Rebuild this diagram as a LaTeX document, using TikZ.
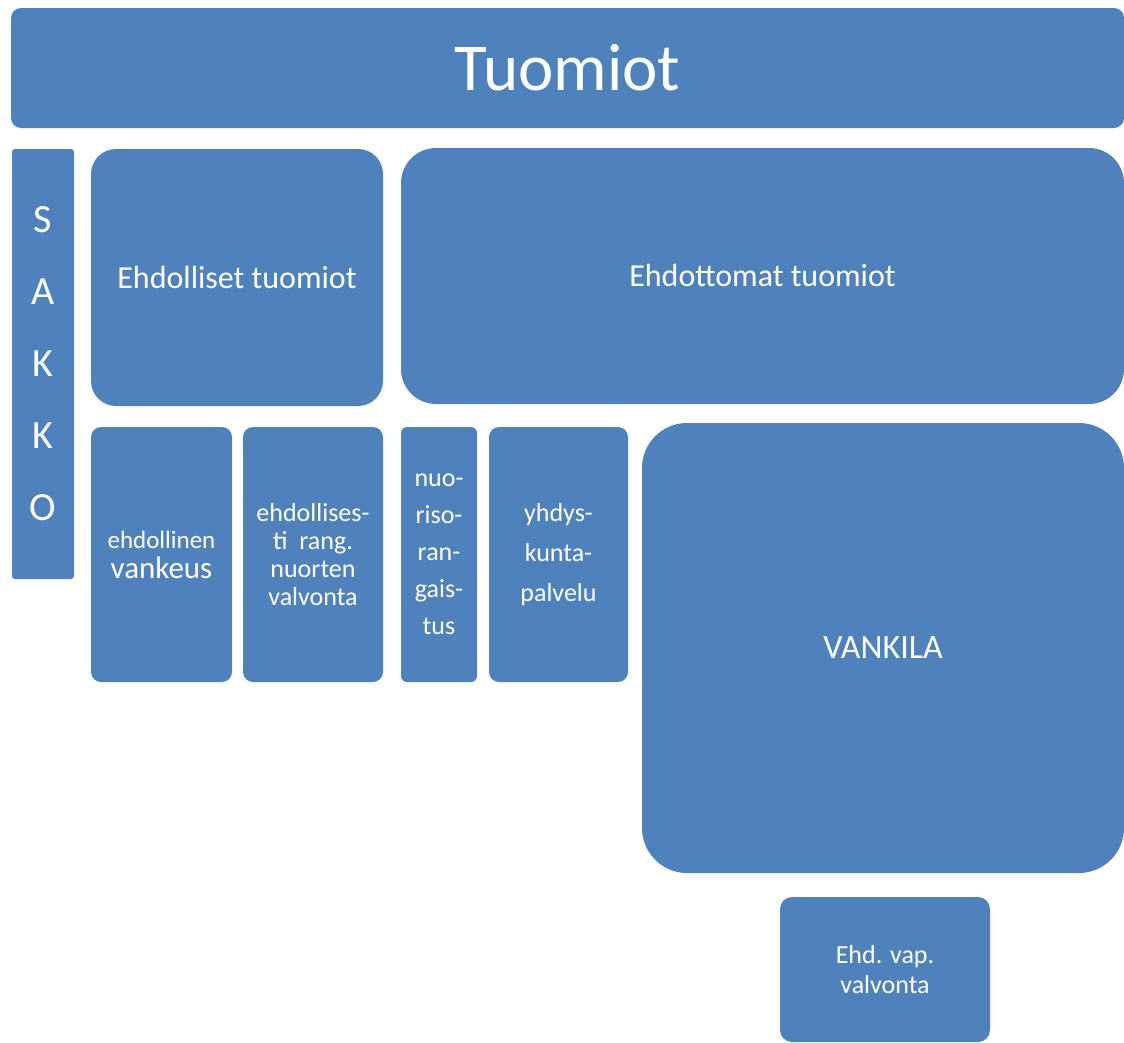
\documentclass[tikz,border=0pt]{standalone}
\usepackage{fontspec}
\setmainfont{Carlito}
\definecolor{boxblue}{HTML}{4F81BD}
\newcommand{\fs}[2]{\fontsize{#1}{#2}\selectfont}
\begin{document}
\begin{tikzpicture}[x=1pt,y=-1pt,
  box/.style={fill=boxblue, draw=none, text=white, align=center, inner sep=0pt, rectangle}]
\useasboundingbox (0,0) rectangle (1124,1042);
% geometry: centre = ((x1+x2)/2,(y1+y2)/2), size
\node[box, rounded corners=10, minimum width=1113, minimum height=120, font=\fs{67}{80}] (tuomiot) at (567.5,68) {Tuomiot};
\node[box, rounded corners=3, minimum width=62, minimum height=430, font=\fs{40}{72}] (sakko) at (43,364) {S\\A\\K\\K\\O};
\node[box, rounded corners=25, minimum width=292, minimum height=257, font=\fs{32}{38}] (ehdolliset) at (237,277.5) {Ehdolliset tuomiot};
\node[box, rounded corners=35, minimum width=723, minimum height=256, font=\fs{32}{38}] (ehdottomat) at (762.5,276) {Ehdottomat tuomiot};
\node[box, rounded corners=10, minimum width=141, minimum height=255, font=\fs{25}{30}] (vankeus) at (161.5,554.5) {ehdollinen\\{\fs{31}{30}vankeus}};
\node[box, rounded corners=10, minimum width=140, minimum height=255, font=\fs{26}{28}] (nuortenvalv) at (313,554.5) {ehdollises-\\ti\ \ rang.\\nuorten\\valvonta};
\node[box, rounded corners=6, minimum width=76, minimum height=255, font=\fs{26}{37}] (nuoriso) at (439,554.5) {nuo-\\riso-\\ran-\\gais-\\tus};
\node[box, rounded corners=10, minimum width=139, minimum height=255, font=\fs{26}{40}] (yhdys) at (558.5,554.5) {yhdys-\\kunta-\\palvelu};
\node[box, rounded corners=45, minimum width=482, minimum height=450, font=\fs{34}{40}] (vankila) at (883,648) {VANKILA};
\node[box, rounded corners=12, minimum width=210, minimum height=145, font=\fs{26}{30}] (ehdvap) at (885,969.5) {Ehd. vap.\\valvonta};
\end{tikzpicture}
\end{document}
